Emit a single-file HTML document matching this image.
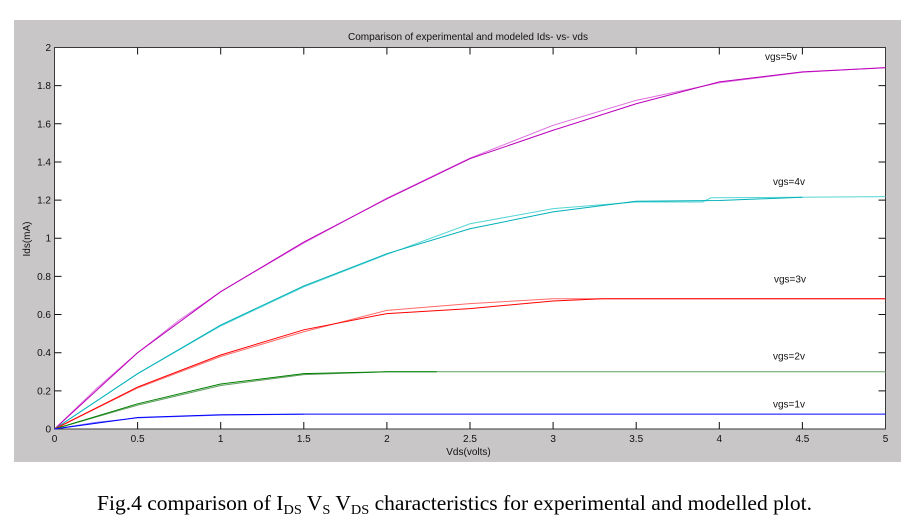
<!DOCTYPE html>
<html>
<head>
<meta charset="utf-8">
<style>
  html,body{margin:0;padding:0;background:#fff;}
  body{width:917px;height:518px;overflow:hidden;}
  svg{display:block;}
  .t{font-family:"Liberation Sans",Arial,sans-serif;font-size:10px;fill:#111;}
  .c{font-family:"Liberation Serif","Times New Roman",serif;fill:#000;}
</style>
</head>
<body>
<svg width="917" height="518" viewBox="0 0 917 518" xmlns="http://www.w3.org/2000/svg">
  <rect x="0" y="0" width="917" height="518" fill="#fff"/>
  <rect x="14" y="20" width="887" height="442" fill="#c9c6c8"/>
  <rect x="54.5" y="47.5" width="831" height="381.5" fill="#fff" stroke="#3a3a3a" stroke-width="1"/>

  <!-- ticks -->
  <g stroke="#111" stroke-width="1">
    <!-- x ticks bottom & top -->
    <path d="M137.6 429v-7M220.7 429v-7M303.8 429v-7M386.9 429v-7M470 429v-7M553.1 429v-7M636.2 429v-7M719.3 429v-7M802.4 429v-7
             M137.6 47.5v7M220.7 47.5v7M303.8 47.5v7M386.9 47.5v7M470 47.5v7M553.1 47.5v7M636.2 47.5v7M719.3 47.5v7M802.4 47.5v7"/>
    <!-- y ticks left & right -->
    <path d="M54.5 390.85h7M54.5 352.7h7M54.5 314.55h7M54.5 276.4h7M54.5 238.25h7M54.5 200.1h7M54.5 161.95h7M54.5 123.8h7M54.5 85.65h7
             M885.5 390.85h-7M885.5 352.7h-7M885.5 314.55h-7M885.5 276.4h-7M885.5 238.25h-7M885.5 200.1h-7M885.5 161.95h-7M885.5 123.8h-7M885.5 85.65h-7"/>
  </g>

  <!-- y tick labels -->
  <g class="t" text-anchor="end">
    <text x="51" y="432.5">0</text>
    <text x="51" y="394.3">0.2</text>
    <text x="51" y="356.2">0.4</text>
    <text x="51" y="318">0.6</text>
    <text x="51" y="279.9">0.8</text>
    <text x="51" y="241.7">1</text>
    <text x="51" y="203.6">1.2</text>
    <text x="51" y="165.4">1.4</text>
    <text x="51" y="127.3">1.6</text>
    <text x="51" y="89.1">1.8</text>
    <text x="51" y="51">2</text>
  </g>
  <!-- x tick labels -->
  <g class="t" text-anchor="middle">
    <text x="54.5" y="442">0</text>
    <text x="137.6" y="442">0.5</text>
    <text x="220.7" y="442">1</text>
    <text x="303.8" y="442">1.5</text>
    <text x="386.9" y="442">2</text>
    <text x="470" y="442">2.5</text>
    <text x="553.1" y="442">3</text>
    <text x="636.2" y="442">3.5</text>
    <text x="719.3" y="442">4</text>
    <text x="802.4" y="442">4.5</text>
    <text x="885.5" y="442">5</text>
  </g>

  <!-- axis labels and title -->
  <text class="t" x="468.5" y="455" text-anchor="middle">Vds(volts)</text>
  <text class="t" transform="translate(30,239) rotate(-90)" text-anchor="middle">Ids(mA)</text>
  <text class="t" x="468" y="40" text-anchor="middle" textLength="240" lengthAdjust="spacingAndGlyphs">Comparison of experimental and modeled Ids- vs- vds</text>

  <!-- curves -->
  <g transform="translate(54.5,429) scale(166.2,-190.75)" fill="none" stroke-width="1">
    <!-- vgs=5 -->
    <polyline vector-effect="non-scaling-stroke" stroke="#dd6edd" points="0,0 0.25,0.21 0.5,0.40 0.75,0.57 1,0.72 1.5,0.975 2,1.21 2.5,1.42 3,1.592 3.5,1.723 4,1.815 4.5,1.87 5,1.895"/>
    <polyline vector-effect="non-scaling-stroke" stroke="#bb00bb" points="0,0 0.5,0.40 1,0.72 1.5,0.98 2,1.207 2.5,1.417 3,1.566 3.5,1.705 4,1.82 4.5,1.872 5,1.894"/>
    <!-- vgs=4 -->
    <polyline vector-effect="non-scaling-stroke" stroke="#55d5d5" points="0,0 0.5,0.29 1,0.54 1.5,0.745 2,0.915 2.5,1.076 3,1.155 3.5,1.19 3.9,1.19 3.95,1.212 5,1.218"/>
    <polyline vector-effect="non-scaling-stroke" stroke="#00b0b8" points="0,0 0.5,0.29 1,0.545 1.5,0.75 2,0.919 2.5,1.05 3,1.138 3.5,1.194 4,1.198 4.5,1.215"/>
    <!-- vgs=3 -->
    <polyline vector-effect="non-scaling-stroke" stroke="#ff6a6a" points="0,0 0.5,0.215 1,0.38 1.5,0.51 2,0.622 2.5,0.657 3,0.683 5,0.683"/>
    <polyline vector-effect="non-scaling-stroke" stroke="#ff0000" points="0,0 0.5,0.22 1,0.388 1.5,0.52 2,0.605 2.5,0.631 3,0.671 3.3,0.683 5,0.683"/>
    <!-- vgs=2 -->
    <polyline vector-effect="non-scaling-stroke" stroke="#5e9e5e" points="0,0 0.5,0.125 1,0.228 1.5,0.285 2,0.30 5,0.30"/>
    <polyline vector-effect="non-scaling-stroke" stroke="#008000" points="0,0 0.5,0.132 1,0.236 1.5,0.29 2,0.30 2.3,0.30"/>
    <!-- vgs=1 -->
    <polyline vector-effect="non-scaling-stroke" stroke="#7070ff" points="0,0 0.25,0.035 0.5,0.058 1,0.073 1.5,0.077"/>
    <polyline vector-effect="non-scaling-stroke" stroke="#0000ff" points="0,0 0.5,0.06 1,0.075 1.5,0.078 5,0.078"/>
  </g>

  <!-- curve labels -->
  <g class="t">
    <text x="765" y="60">vgs=5v</text>
    <text x="773" y="185">vgs=4v</text>
    <text x="774" y="282.5">vgs=3v</text>
    <text x="773" y="359.5">vgs=2v</text>
    <text x="773" y="407.5">vgs=1v</text>
  </g>

  <!-- caption -->
  <text class="c" x="97" y="510" font-size="21" textLength="715" lengthAdjust="spacingAndGlyphs">Fig.4 comparison of  I<tspan font-size="14" dy="4">DS</tspan><tspan dy="-4"> V</tspan><tspan font-size="14" dy="4">S</tspan><tspan dy="-4"> V</tspan><tspan font-size="14" dy="4">DS</tspan><tspan dy="-4"> characteristics for experimental and modelled plot.</tspan></text>
</svg>
</body>
</html>
